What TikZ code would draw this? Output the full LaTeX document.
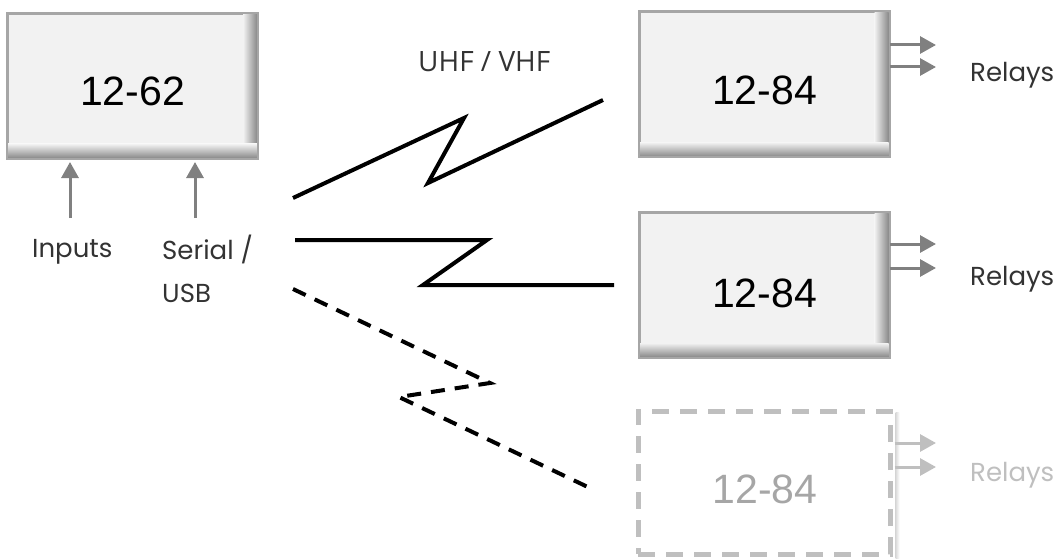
\documentclass[tikz,border=0pt]{standalone}
\usepackage{fontspec}
\usetikzlibrary{arrows.meta}
\newfontfamily\numfont{Liberation Sans}
\newfontfamily\lblfont{Poppins}
\newfontfamily\bandfont{Open Sans}
\definecolor{boxfill}{HTML}{F2F2F2}
\definecolor{boxedge}{HTML}{A6A6A6}
\definecolor{shadowc}{HTML}{8A8A8A}
\definecolor{arrowc}{HTML}{808080}
\definecolor{ghost}{HTML}{BFBFBF}
\definecolor{ghosttext}{HTML}{A6A6A6}
\tikzset{
  unit/.style={rectangle, draw=boxedge, line width=2pt, fill=boxfill,
    minimum width=249pt, minimum height=144pt, inner sep=0pt},
  ghostunit/.style={rectangle, draw=ghost, line width=5pt,
    dash pattern=on 17pt off 11pt,
    minimum width=252pt, minimum height=143pt, inner sep=0pt},
  model/.style={font=\numfont\fontsize{41}{41}\selectfont, anchor=base, inner sep=0pt},
  lbl/.style={font=\lblfont\fontsize{26}{43}\selectfont, text=black!80, anchor=base west, inner sep=0pt},
  sig/.style={draw=arrowc, line width=3pt, -{Triangle[length=16pt,width=17pt]}},
  radio/.style={draw=black, line width=4pt, line join=miter},
  radiodash/.style={radio, dash pattern=on 14pt off 10pt},
}
% inner shadow along the right and bottom edges of a unit
\newcommand\unitshade[1]{%
  \shade[left color=boxfill, right color=shadowc]
    ([xshift=-15pt,yshift=-1pt]#1.north east) rectangle ([xshift=-1pt,yshift=1pt]#1.south east);
  \shade[top color=boxfill, bottom color=shadowc]
    ([xshift=1pt,yshift=15pt]#1.south west) rectangle ([xshift=-1pt,yshift=1pt]#1.south east);
  \draw[boxedge, line width=2pt] (#1.north west) rectangle (#1.south east);
}
\begin{document}
\begin{tikzpicture}[x=1pt, y=-1pt]
\useasboundingbox (0,0) rectangle (1063,559);

% transmitter
\node[unit] (tx) at (132.5,86) {};
\unitshade{tx}
\node[model] (txname) at (132.5,106) {12-62};

% receivers
\node[unit] (rxa) at (764,84.5) {};
\unitshade{rxa}
\node[model] (rxaname) at (764.5,105) {12-84};

\node[unit] (rxb) at (764,285) {};
\unitshade{rxb}
\node[model] (rxbname) at (764.5,307) {12-84};

% unconfirmed receiver, with a soft shadow on its right side
\node[ghostunit] (rxc) at (764,482.5) {};
\shade[left color=ghost!60, right color=white]
  ([xshift=3pt,yshift=-4pt]rxc.north east) rectangle ([xshift=7pt,yshift=-2pt]rxc.south east);
\node[model, text=ghosttext] (rxcname) at (765,503) {12-84};

% inputs to the transmitter
\coordinate (inA) at (70,218);
\coordinate (inB) at (195,218);
\draw[sig, shorten >=3pt] (inA) -- (inA |- tx.south);
\draw[sig, shorten >=3pt] (inB) -- (inB |- tx.south);
\node[lbl] (inputs) at (32,257) {Inputs};
\node[lbl] (serial) at (162,259) {Serial /};
\node[lbl] (usb) at (162,302) {USB};

% relay outputs
\coordinate (ra1) at (936,45);
\coordinate (ra2) at (936,67);
\draw[sig] (rxa.east |- ra1) -- (ra1);
\draw[sig] (rxa.east |- ra2) -- (ra2);
\node[lbl] (relaysa) at (970,82) {Relays};

\coordinate (rb1) at (936,244);
\coordinate (rb2) at (936,268);
\draw[sig] (rxb.east |- rb1) -- (rb1);
\draw[sig] (rxb.east |- rb2) -- (rb2);
\node[lbl] (relaysb) at (970,285) {Relays};

\coordinate (rc1) at (936,443);
\coordinate (rc2) at (936,467);
\draw[sig, draw=ghost, -{Triangle[length=16pt,width=17pt,fill=ghost]}] ([xshift=2pt]rxc.east |- rc1) -- (rc1);
\draw[sig, draw=ghost, -{Triangle[length=16pt,width=17pt,fill=ghost]}] ([xshift=2pt]rxc.east |- rc2) -- (rc2);
\node[lbl, text=ghost] (relaysc) at (970,481) {Relays};

% radio band
\node[font=\bandfont\fontsize{28}{28}\selectfont, text=black!80, anchor=base west, inner sep=0pt]
  (band) at (418,72) {UHF / VHF};

% radio links
\coordinate (la0) at (293,198);
\coordinate (la1) at (464,118);
\coordinate (la2) at (428,183);
\coordinate (la3) at (603,100);
\draw[radio] (la0) -- (la1) -- (la2) -- (la3);

\coordinate (lb0) at (295,240);
\coordinate (lb1) at (487,240);
\coordinate (lb2) at (423,285);
\coordinate (lb3) at (614,285);
\draw[radio] (lb0) -- (lb1) -- (lb2) -- (lb3);

\coordinate (lc0) at (293,289);
\coordinate (lc1) at (490,383);
\coordinate (lc2) at (399,397);
\coordinate (lc3) at (592,489);
\draw[radiodash] (lc0) -- (lc1) -- (lc2) -- (lc3);
\end{tikzpicture}
\end{document}
